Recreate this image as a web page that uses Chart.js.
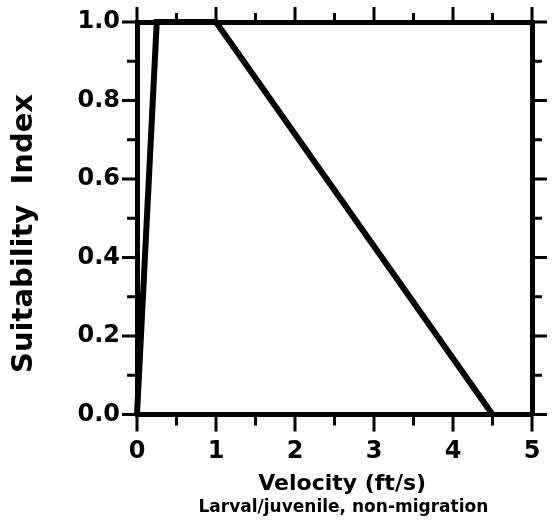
<!DOCTYPE html>
<html>
<head>
<meta charset="utf-8">
<script src="https://cdn.jsdelivr.net/npm/chart.js@4/dist/chart.umd.min.js"></script>
<style>
  html, body { margin: 0; padding: 0; background: #fff; }
  #wrap { width: 556px; height: 527px; }
</style>
</head>
<body>
<div id="wrap"><canvas id="si-chart" width="556" height="527"></canvas></div>
<script>
// data
const velocity = [0, 0.25, 1.0, 4.5];
const suitability = [0, 1.0, 1.0, 0];

// axis ticks
const xTicks = [0, 1, 2, 3, 4, 5];
const xMinor = [0.5, 1.5, 2.5, 3.5, 4.5];
const yTicks = [0, 0.2, 0.4, 0.6, 0.8, 1.0];
const yMinor = [0.1, 0.3, 0.5, 0.7, 0.9];

const FONT = "'DejaVu Sans', 'Liberation Sans', Arial, sans-serif";

// outward tick marks on all four sides
const tickMarks = {
  id: "tickMarks",
  afterDraw(chart) {
    const ctx = chart.ctx;
    const a = chart.chartArea;
    const xs = chart.scales.x, ys = chart.scales.y;
    ctx.save();
    ctx.strokeStyle = "#000";
    ctx.lineWidth = 3;
    ctx.beginPath();
    const sideX = function (vals, len) {
      vals.forEach(function (v) {
        const px = xs.getPixelForValue(v);
        ctx.moveTo(px, a.top); ctx.lineTo(px, a.top - len);
        ctx.moveTo(px, a.bottom); ctx.lineTo(px, a.bottom + len + 2);
      });
    };
    const sideY = function (vals, len) {
      vals.forEach(function (v) {
        const py = ys.getPixelForValue(v);
        ctx.moveTo(a.left, py); ctx.lineTo(a.left - len, py);
        ctx.moveTo(a.right, py); ctx.lineTo(a.right + len, py);
      });
    };
    sideX(xTicks, 15);
    sideX(xMinor, 9);
    sideY(yTicks, 15);
    sideY(yMinor, 10);
    ctx.stroke();
    ctx.restore();
  },
};

const border = { display: true, color: "#000", width: 5 };

// fixed box sizes, no label overhang padding
function fixSize(w, h) {
  return function (s) {
    if (w !== null) s.width = w;
    if (h !== null) s.height = h;
    s.paddingTop = 0; s.paddingBottom = 0;
    s.paddingLeft = 0; s.paddingRight = 0;
  };
}

new Chart(document.getElementById("si-chart"), {
  type: "line",
  data: {
    datasets: [
      {
        data: velocity.map(function (v, i) { return { x: v, y: suitability[i] }; }),
        borderColor: "#000",
        borderWidth: 6,
        pointRadius: 0,
        tension: 0,
        fill: false,
        clip: 12,
        borderJoinStyle: "miter",
      },
    ],
  },
  options: {
    responsive: false,
    animation: false,
    events: [],
    layout: { padding: 0 },
    plugins: {
      legend: { display: false },
      tooltip: { enabled: false },
      title: {
        display: true,
        fullSize: false,
        position: "bottom",
        text: "   Larval/juvenile, non-migration",
        color: "#000",
        font: { family: FONT, size: 17, weight: "bold" },
        padding: { top: 0, bottom: 9 },
      },
    },
    scales: {
      x: {
        type: "linear",
        position: "bottom",
        min: 0,
        max: 5,
        border: border,
        grid: { display: false, drawTicks: false },
        ticks: {
          stepSize: 1,
          padding: 23,
          color: "#000",
          font: { family: FONT, size: 24, weight: "bold" },
          callback: function (v) { return xTicks.includes(v) ? String(v) : ""; },
        },
        title: {
          display: true,
          text: "  Velocity (ft/s)",
          color: "#000",
          font: { family: FONT, size: 22, weight: "bold" },
          padding: { top: 0, bottom: 0 },
        },
        afterFit: fixSize(null, 83),
      },
      x2: {
        type: "linear",
        position: "top",
        min: 0,
        max: 5,
        border: border,
        grid: { display: false, drawTicks: false },
        ticks: { display: false },
        afterFit: fixSize(null, 22),
      },
      y: {
        min: 0,
        max: 1,
        border: border,
        grid: { display: false, drawTicks: false },
        ticks: {
          stepSize: 0.2,
          padding: 17,
          color: "#000",
          font: { family: FONT, size: 24, weight: "bold" },
          callback: function (v) { return v.toFixed(1); },
        },
        title: {
          display: true,
          text: "Suitability  Index   ",
          color: "#000",
          font: { family: FONT, size: 29, weight: "bold" },
          padding: { top: 7, bottom: 0 },
        },
        afterFit: fixSize(137, null),
      },
      y2: {
        position: "right",
        min: 0,
        max: 1,
        border: border,
        grid: { display: false, drawTicks: false },
        ticks: { display: false },
        afterFit: fixSize(24, null),
      },
    },
  },
  plugins: [tickMarks],
});
</script>
</body>
</html>
